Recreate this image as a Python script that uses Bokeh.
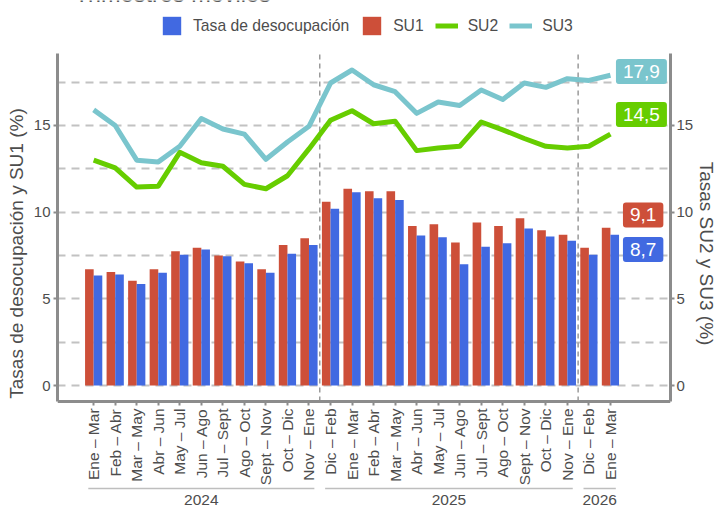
import math
from bokeh.plotting import figure
from bokeh.models import (ColumnDataSource, Range1d, LinearAxis, FixedTicker,
                          Legend, LegendItem, Label)
from bokeh.core.properties import value
from bokeh.transform import dodge
from bokeh.embed import file_html
from bokeh.resources import INLINE

# ---------------- data ----------------
years = ["2024", "2025", "2026"]
periods_2024 = ["Ene – Mar", "Feb – Abr", "Mar – May", "Abr – Jun", "May – Jul",
                "Jun – Ago", "Jul – Sept", "Ago – Oct", "Sept – Nov", "Oct – Dic",
                "Nov – Ene"]
periods_2025 = ["Dic – Feb", "Ene – Mar", "Feb – Abr", "Mar – May", "Abr – Jun",
                "May – Jul", "Jun – Ago", "Jul – Sept", "Ago – Oct", "Sept – Nov",
                "Oct – Dic", "Nov – Ene"]
periods_2026 = ["Dic – Feb", "Ene – Mar"]

tasa = [6.35, 6.4, 5.85, 6.5, 7.55, 7.85, 7.45, 7.05, 6.5, 7.6, 8.1,
        10.2, 11.15, 10.8, 10.7, 8.65, 8.55, 7.0, 8.0, 8.2, 9.05, 8.6, 8.35,
        7.55, 8.7]
su1 = [6.7, 6.55, 6.05, 6.7, 7.75, 7.95, 7.5, 7.15, 6.7, 8.1, 8.5,
       10.6, 11.35, 11.2, 11.2, 9.2, 9.3, 8.25, 9.4, 9.2, 9.65, 8.95, 8.7,
       7.95, 9.1]
su2 = [13.0, 12.55, 11.45, 11.5, 13.45, 12.85, 12.65, 11.6, 11.35, 12.1, 13.65,
       15.3, 15.85, 15.1, 15.25, 13.55, 13.7, 13.8, 15.2, 14.75, 14.25, 13.8, 13.7,
       13.8, 14.5]
su3 = [15.9, 15.0, 13.0, 12.9, 13.8, 15.4, 14.8, 14.5, 13.05, 14.05, 14.95,
       17.45, 18.2, 17.35, 16.95, 15.7, 16.35, 16.15, 17.05, 16.5, 17.45, 17.2, 17.7,
       17.6, 17.9]

left_ticks = [0, 5, 10, 15]
right_ticks = [0, 5, 10, 15]
grid_ticks = [0, 2.5, 5, 7.5, 10, 12.5, 15, 17.5]
title_text = "Trimestres móviles"

# ---------------- styles ----------------
FONT = "Liberation Sans"
TXT = "#4D4D4D"
SPINE = "#8C8C8C"
GRID = "#C2C2C2"
C_TASA = "#4169E1"
C_SU1 = "#CD4F39"
C_SU2 = "#66CD00"
C_SU3 = "#7AC5CD"

groups = [periods_2024, periods_2025, periods_2026]
cats = periods_2024 + periods_2025 + periods_2026
n = len(cats)
xs = list(range(n))

src = ColumnDataSource(dict(x=xs, tasa=tasa, su1=su1, su2=su2, su3=su3))

# axis extent (spines) and the full frame extent (frame also holds legend / year rows)
Y0, Y1 = -0.92, 19.15
YB, YT = -6.98, 22.21
p = figure(width=720, height=506,
           x_range=Range1d(-1.68, n - 1 + 2.79), y_range=Range1d(YB, YT),
           output_backend="svg", toolbar_location=None,
           min_border_left=57, min_border_right=48,
           min_border_top=0, min_border_bottom=0)
p.outline_line_color = None
p.background_fill_color = "white"
p.extra_y_ranges = {"r": Range1d(YB, YT)}

# grid
p.xgrid.visible = False
p.ygrid.ticker = FixedTicker(ticks=grid_ticks)
p.ygrid.grid_line_color = GRID
p.ygrid.grid_line_width = 2
p.ygrid.grid_line_dash = "8 6"

# x axis (periods), fixed at the bottom of the value range
xa = p.xaxis[0]
xa.fixed_location = Y0
xa.ticker = FixedTicker(ticks=xs, minor_ticks=[])
xa.major_label_overrides = {i: c for i, c in enumerate(cats)}
xa.major_label_orientation = math.pi / 2
xa.major_label_text_font = FONT
xa.major_label_text_font_size = "15.5px"
xa.major_label_text_color = TXT
xa.major_label_standoff = 3
xa.axis_line_color = SPINE
xa.axis_line_width = 3
xa.major_tick_line_color = SPINE
xa.major_tick_line_width = 2
xa.major_tick_out = 4
xa.major_tick_in = 0
xa.minor_tick_line_color = None

# left axis
la = p.yaxis[0]
la.bounds = (Y0, Y1)
la.ticker = FixedTicker(ticks=left_ticks, minor_ticks=[])
la.axis_label = "Tasas de desocupación y SU1 (%)"
la.axis_label_text_font = FONT
la.axis_label_text_font_size = "19px"
la.axis_label_text_font_style = "normal"
la.axis_label_text_color = TXT
la.axis_label_standoff = 4
la.major_label_text_font = FONT
la.major_label_text_font_size = "15px"
la.major_label_text_color = TXT
la.major_label_standoff = 3
la.axis_line_color = SPINE
la.axis_line_width = 3
la.major_tick_line_color = SPINE
la.major_tick_line_width = 2
la.major_tick_out = 4
la.major_tick_in = 0
la.minor_tick_line_color = None

# right axis
ra = LinearAxis(y_range_name="r", bounds=(Y0, Y1),
                ticker=FixedTicker(ticks=right_ticks, minor_ticks=[]),
                axis_label="Tasas SU2 y SU3 (%)",
                axis_label_text_font=FONT, axis_label_text_font_size="19px",
                axis_label_text_font_style="normal", axis_label_text_color=TXT,
                axis_label_text_line_height=1.0, axis_label_standoff=0,
                major_label_text_font=FONT, major_label_text_font_size="15px",
                major_label_text_color=TXT, major_label_standoff=2,
                axis_line_color=SPINE, axis_line_width=3,
                major_tick_line_color=SPINE, major_tick_line_width=2,
                major_tick_out=4, major_tick_in=0, minor_tick_line_color=None)
p.add_layout(ra, "right")

# bars
r_su1 = p.vbar(x=dodge("x", -0.2), top="su1", bottom=0, width=0.4, source=src,
               fill_color=C_SU1, line_color=None)
r_tasa = p.vbar(x=dodge("x", 0.2), top="tasa", bottom=0, width=0.4, source=src,
                fill_color=C_TASA, line_color=None)

# separators between years (from the x axis to the top of the value range)
seps = []
b = -0.5
for g in groups[:-1]:
    b += len(g)
    seps.append(b)
p.segment(x0=seps, x1=seps, y0=[Y0] * len(seps), y1=[Y1] * len(seps),
          line_color="#9A9A9A", line_dash="5 4", line_width=1.5)

# lines
r_su2 = p.line(x="x", y="su2", source=src, line_color=C_SU2, line_width=5,
               line_join="round")
r_su3 = p.line(x="x", y="su3", source=src, line_color=C_SU3, line_width=5,
               line_join="round")

# year brackets and year labels
lo, hi, centers = [], [], []
s = 0
for g in groups:
    lo.append(s - 0.25)
    hi.append(s + len(g) - 1 + 0.25)
    centers.append(s + (len(g) - 1) / 2)
    s += len(g)
BR_Y = -5.94
YR_Y = -6.59
p.segment(x0=lo, x1=hi, y0=[BR_Y] * len(lo), y1=[BR_Y] * len(lo),
          line_color="#BEBEBE", line_width=1.5)
p.text(x=centers, y=[YR_Y] * len(centers), text=years,
       text_font=value(FONT), text_font_size="15.5px", text_color=TXT,
       text_align="center", text_baseline="middle")

# end labels
last = n - 1
def fmt(v):
    return f"{v:.1f}".replace(".", ",")
end_specs = [(su3[-1], C_SU3, 1.44, 0.21), (su2[-1], C_SU2, 1.44, 1.13),
             (su1[-1], C_SU1, 1.52, 0.74), (tasa[-1], C_TASA, 1.52, -0.86)]
for v, col, dx, dy in end_specs:
    p.add_layout(Label(x=last + dx, y=v + dy, text=fmt(v), text_color="white",
                       text_font=FONT, text_font_size="19px",
                       text_align="center", text_baseline="middle",
                       background_fill_color=col, border_line_color=None,
                       padding=(7, 6), border_radius=3))

# title (cut off by the top edge, as in the reference)
p.add_layout(Label(x=-0.89, y=22.60, text=title_text, text_color="#5A5A5A",
                   text_font=FONT, text_font_size="23.5px", text_align="left",
                   text_baseline="middle"))

# legend
legend = Legend(items=[LegendItem(label="Tasa de desocupación", renderers=[r_tasa]),
                       LegendItem(label="SU1", renderers=[r_su1]),
                       LegendItem(label="SU2", renderers=[r_su2]),
                       LegendItem(label="SU3", renderers=[r_su3])],
                orientation="horizontal", location=(103, 469),
                glyph_width=23, glyph_height=23, label_standoff=10, spacing=11,
                label_text_font=FONT, label_text_font_size="15.7px",
                label_text_color=TXT, padding=0, margin=0,
                background_fill_alpha=0, border_line_color=None)
p.add_layout(legend, "center")

open("out.html", "w").write(file_html(p, INLINE))
